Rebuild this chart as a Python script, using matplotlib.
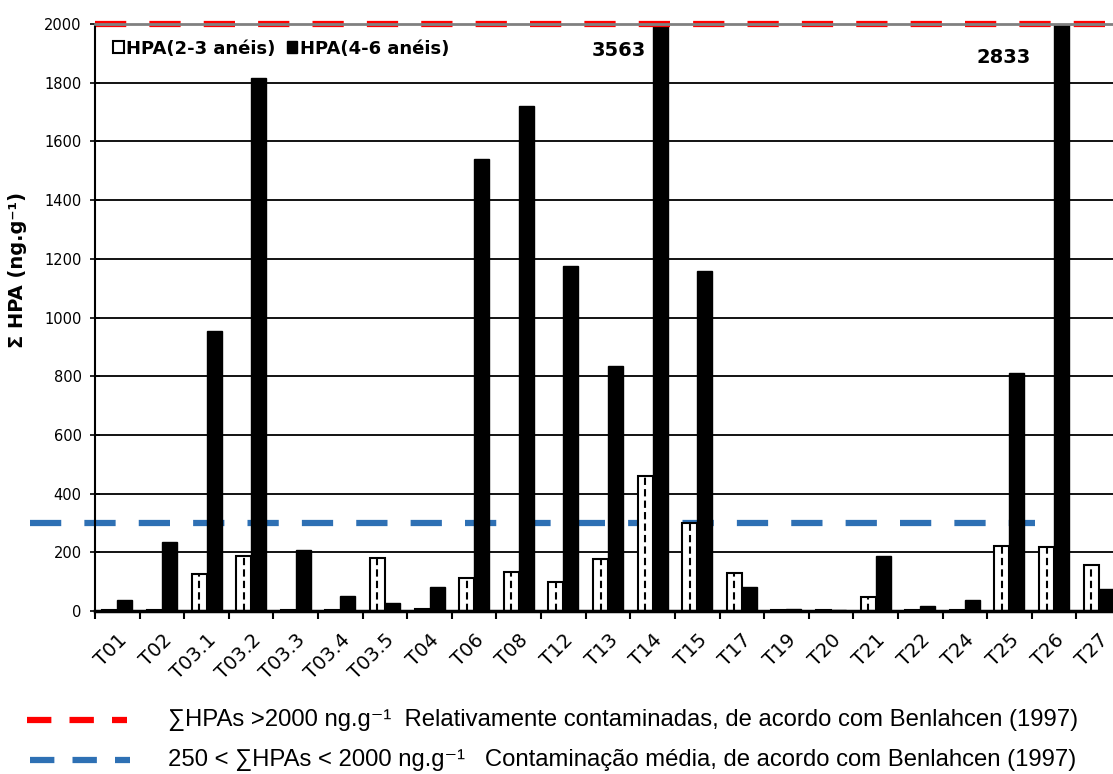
import numpy as np
import matplotlib
matplotlib.use("Agg")
import matplotlib.pyplot as plt
from matplotlib.patches import Patch
from matplotlib.lines import Line2D

# amostras e somas de HPA (ng/g)
pontos = ["T01", "T02", "T03.1", "T03.2", "T03.3", "T03.4", "T03.5", "T04", "T06",
          "T08", "T12", "T13", "T14", "T15", "T17", "T19", "T20", "T21", "T22",
          "T24", "T25", "T26", "T27"]
hpa_2_3 = [5, 5, 126, 188, 5, 5, 182, 8, 113, 134, 100, 176, 461, 301, 130,
           3, 2, 49, 5, 5, 221, 217, 157]
hpa_4_6 = [38, 234, 955, 1815, 207, 50, 26, 83, 1540, 1720, 1175, 835, 3563,
           1157, 83, 6, 5, 188, 18, 36, 810, 2833, 74]
limite_alto = 2000
limite_medio = 300
ymax = 2000

fig = plt.figure(figsize=(11.13, 7.74), dpi=100)
ax = fig.add_axes([95 / 1113, (774 - 611) / 774, 1026 / 1113, 587 / 774])

x = np.arange(len(pontos))
w = 0.336

ax.bar(x - w / 2, hpa_2_3, width=w, color="white", edgecolor="black", lw=1.5, zorder=2)
ax.bar(x + w / 2, hpa_4_6, width=w, color="black", edgecolor="black", lw=1.0, zorder=2)
# linha tracejada no meio das barras brancas
ax.vlines(x - w / 2, 0, hpa_2_3, colors="black", lw=1.5,
          linestyles=(0, (3.5, 2.0)), zorder=3)

# valores fora de escala
ax.annotate(str(hpa_4_6[12]), xy=(12, ymax), xytext=(-5, -19), textcoords="offset points",
            ha="right", va="center", fontsize=14, fontweight="bold")
ax.annotate(str(hpa_4_6[21]), xy=(21, ymax), xytext=(-17, -24), textcoords="offset points",
            ha="right", va="center", fontsize=14, fontweight="bold")

# limites de Benlahcen
ax.axhline(limite_alto, color="#FF0000", lw=4.5, linestyle=(0, (5, 3.7)),
           clip_on=False, zorder=2.2)
ax.axhline(limite_medio, xmin=-0.063, xmax=0.916, color="#2E70B4", lw=4.5,
           linestyle=(0, (5, 3.7)), clip_on=False, zorder=1.5)

ax.set_xlim(-0.5, len(pontos) - 0.5)
ax.set_ylim(0, ymax)
ax.set_yticks(np.arange(0, 2001, 200))
ax.set_xticks(x)
ax.set_xticklabels(pontos, rotation=45, ha="right", rotation_mode="anchor", fontsize=14)
ax.set_xticks(np.arange(-0.5, len(pontos), 1), minor=True)
ax.tick_params(axis="x", which="major", length=0, pad=14)
ax.tick_params(axis="x", which="minor", length=6, width=1.5, direction="out")
ax.tick_params(axis="y", length=7, width=1.2, direction="inout", labelsize=10.5, pad=6)

ax.yaxis.grid(True, color="black", lw=1.3)
ax.set_axisbelow(True)
ax.get_ygridlines()[-1].set_visible(False)

ax.spines["top"].set_color("#808080")
ax.spines["top"].set_linewidth(2)
ax.spines["top"].set_zorder(2.5)
ax.spines["right"].set_visible(False)
ax.spines["left"].set_linewidth(1.5)
ax.spines["bottom"].set_linewidth(2.5)

fig.text(18 / 1113, 1 - 270 / 774, "Σ HPA (ng.g⁻¹)", rotation=90, ha="center", va="center",
         fontsize=14, fontweight="bold")

handles = [Patch(facecolor="white", edgecolor="black", lw=1.5),
           Patch(facecolor="black", edgecolor="black")]
ax.legend(handles, ["HPA(2-3 anéis)", "HPA(4-6 anéis)"], loc="upper left", ncol=2,
          frameon=False, handlelength=0.6, handleheight=0.6, handletextpad=0.15,
          columnspacing=0.6, borderaxespad=0.3, bbox_to_anchor=(0.005, 0.995),
          prop={"weight": "bold", "size": 13})

# legenda das linhas de referencia
fonte = ["Liberation Sans Narrow", "Liberation Sans", "DejaVu Sans"]
fig.add_artist(Line2D([27 / 1113, 127 / 1113], [1 - 720 / 774] * 2, color="#FF0000", lw=4.5,
                      linestyle=(0, (3.9, 2.9))))
fig.add_artist(Line2D([30 / 1113, 130 / 1113], [1 - 760 / 774] * 2, color="#2E70B4", lw=4.5,
                      linestyle=(0, (3.9, 2.9))))
fig.text(168 / 1113, 1 - 720 / 774,
         "∑HPAs >2000 ng.g⁻¹  Relativamente contaminadas, de acordo com Benlahcen (1997)",
         family=fonte, fontsize=17.2, va="center")
fig.text(168 / 1113, 1 - 760 / 774,
         "250 < ∑HPAs < 2000 ng.g⁻¹   Contaminação média, de acordo com Benlahcen (1997)",
         family=fonte, fontsize=17.2, va="center")

fig.savefig("out.png", dpi=100)
